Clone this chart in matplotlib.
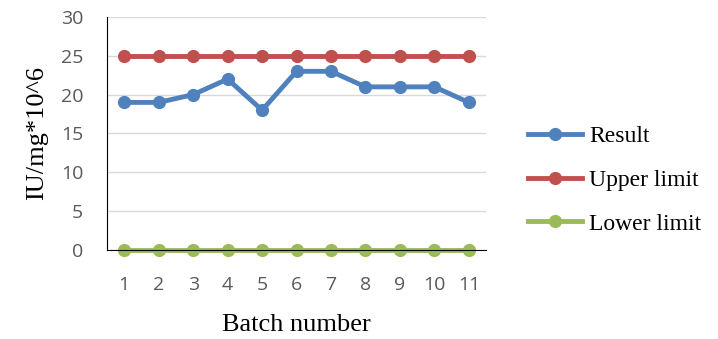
import matplotlib.pyplot as plt

batches = [1, 2, 3, 4, 5, 6, 7, 8, 9, 10, 11]
result = [19, 19, 20, 22, 18, 23, 23, 21, 21, 21, 19]
upper_limit = [25] * 11
lower_limit = [0] * 11

fig = plt.figure(figsize=(7.18, 3.39), dpi=100)
ax = fig.add_axes([0.149, 0.2625, 0.528, 0.6875])

ax.plot(batches, result, color='#4F81BD', lw=3.5, marker='o', ms=8.5, label='Result')
ax.plot(batches, upper_limit, color='#C0504D', lw=3.5, marker='o', ms=8.5, label='Upper limit')
ax.plot(batches, lower_limit, color='#9BBB59', lw=3.5, marker='o', ms=8.5, label='Lower limit', clip_on=False)

ax.set_xlim(0.5, 11.5)
ax.set_ylim(0, 30)
ax.set_yticks(range(0, 31, 5))
ax.set_xticks(batches)
ax.grid(axis='y', color='#D9D9D9', lw=1)
ax.set_axisbelow(True)
for s in ['top', 'right']:
    ax.spines[s].set_visible(False)
ax.spines['left'].set_color('black')
ax.spines['bottom'].set_color('black')
ax.tick_params(length=0, labelsize=14, labelcolor='#595959')
ax.tick_params(axis='x', pad=19)
ax.tick_params(axis='y', pad=17)
for t in ax.get_xticklabels() + ax.get_yticklabels():
    t.set_family('Open Sans')

ax.set_xlabel('Batch number', family='Liberation Serif', fontsize=19, labelpad=14)
ax.set_ylabel('IU/mg*10^6', family='Liberation Serif', fontsize=19, labelpad=9)

leg = fig.legend(loc='center left', bbox_to_anchor=(528 / 718, 1 - 180 / 339), frameon=False,
                 prop={'family': 'Liberation Serif', 'size': 17},
                 borderpad=0, borderaxespad=0,
                 handlelength=2.3, handletextpad=0.3, labelspacing=0.95)

fig.savefig('out.png', dpi=100)
